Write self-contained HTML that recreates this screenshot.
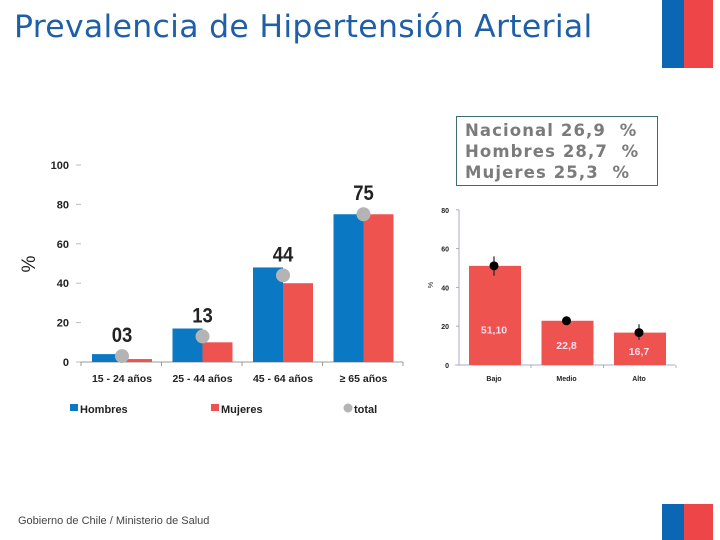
<!DOCTYPE html>
<html><head><meta charset="utf-8"><style>
body{margin:0;width:720px;height:540px;background:#fff;overflow:hidden;position:relative;font-family:"Liberation Sans",sans-serif}
.abs{position:absolute}
</style></head><body>
<div class="abs" style="left:14px;top:9px;font-family:'DejaVu Sans',sans-serif;font-size:31.5px;color:#1f5fa8;letter-spacing:0.3px">Prevalencia de Hipertensión Arterial</div>
<div class="abs" style="left:662px;top:0;width:22px;height:68px;background:#0b67b4"></div>
<div class="abs" style="left:684px;top:0;width:29px;height:68px;background:#ee4549"></div>
<div class="abs" style="left:662px;top:504px;width:22px;height:36px;background:#0b67b4"></div>
<div class="abs" style="left:684px;top:504px;width:29px;height:36px;background:#ee4549"></div>
<div class="abs" style="left:18px;top:515px;font-size:11px;color:#444">Gobierno de Chile / Ministerio de Salud</div>
<div class="abs" style="left:456px;top:116px;width:202px;height:70px;border:1px solid #3d6b74;box-sizing:border-box;font-family:'DejaVu Sans',sans-serif;font-weight:bold;font-size:16.5px;line-height:21px;color:#7b7b7b;padding:3px 0 0 8px;white-space:pre;overflow:visible;letter-spacing:1.1px">Nacional 26,9  %
Hombres 28,7  %
Mujeres 25,3  %</div>
<svg class="abs" style="left:0;top:0" width="720" height="540" id="svg"></svg>
<script>
const ageCats=["15 - 24 años","25 - 44 años","45 - 64 años","≥ 65 años"];
const hombres=[4,17,48,75];
const mujeres=[1.5,10,40,75];
const total=[3,13,44,75];
const totalLabels=["03","13","44","75"];
const leftTicks=[0,20,40,60,80,100];
const sesCats=["Bajo","Medio","Alto"];
const sesVals=[51.1,22.8,16.7];
const sesLabels=["51,10","22,8","16,7"];
const sesErrLo=[46,21,13];
const sesErrHi=[56,24.5,21];
const rightTicks=[0,20,40,60,80];
const NS="http://www.w3.org/2000/svg";
const svg=document.getElementById('svg');
function mk(t,a,txt){const e=document.createElementNS(NS,t);for(const k in a)e.setAttribute(k,a[k]);if(txt!==undefined)e.textContent=txt;svg.appendChild(e);return e;}
// left chart
const ly=v=>362-v*1.97, lx=i=>122+i*80.5;
mk('line',{x1:80,y1:362,x2:403,y2:362,stroke:'#999'});
leftTicks.forEach(t=>{mk('line',{x1:76,x2:81,y1:ly(t),y2:ly(t),stroke:'#bbb'});
const e=mk('text',{x:69,y:ly(t)+4,'text-anchor':'end','font-size':11,'font-weight':'bold',fill:'#222'},t);});
for(let i=0;i<=4;i++)mk('line',{x1:81+i*80.5,x2:81+i*80.5,y1:362,y2:366,stroke:'#999'});
const yl=mk('text',{x:35,y:264,'font-size':19,fill:'#222',transform:'rotate(-90 35 264)','text-anchor':'middle'},'%');
ageCats.forEach((c,i)=>{
let b=mk('rect',{x:lx(i)-30,y:ly(hombres[i]),width:30,height:hombres[i]*1.97,fill:'#0a78c2'});
b=mk('rect',{x:lx(i),y:ly(mujeres[i]),width:30,height:mujeres[i]*1.97,fill:'#ef5350'});
b=mk('circle',{cx:lx(i),cy:ly(total[i]),r:7,fill:'#b4b4b4'});
b=mk('text',{x:lx(i),y:ly(total[i])-14,'text-anchor':'middle','font-size':21,'font-weight':'bold',fill:'#222',transform:`translate(${lx(i)*0.12} 0) scale(0.88 1)`},totalLabels[i]);
b=mk('text',{x:lx(i),y:382,'text-anchor':'middle','font-size':10.5,'font-weight':'bold',fill:'#222'},c);
});
[['#0a78c2','Hombres',70,'legend-hombres'],['#ef5350','Mujeres',211,'legend-mujeres']].forEach(l=>{
let r=mk('rect',{x:l[2],y:404,width:8,height:7,fill:l[0]});
mk('text',{x:l[2]+10,y:413,'font-size':11,'font-weight':'bold',fill:'#222'},l[1]);});
let lc=mk('circle',{cx:348,cy:408,r:4.5,fill:'#b4b4b4'});
mk('text',{x:354,y:413,'font-size':11,'font-weight':'bold',fill:'#222'},'total');
// right chart
const ry=v=>365-v*1.94, rx=i=>495+i*72.5;
mk('line',{x1:459,y1:210,x2:459,y2:365,stroke:'#a9a9c9'});
mk('line',{x1:455,y1:365,x2:675,y2:365,stroke:'#a9a9c9'});
rightTicks.forEach(t=>{mk('line',{x1:456,x2:459,y1:ry(t),y2:ry(t),stroke:'#a9a9c9'});
const e=mk('text',{x:449,y:ry(t)+3,'text-anchor':'end','font-size':7,'font-weight':'bold',fill:'#222'},t);});
mk('text',{x:433,y:285,'font-size':7,fill:'#222',transform:'rotate(-90 433 285)','text-anchor':'middle'},'%');
sesCats.forEach((c,i)=>{
let b=mk('rect',{x:rx(i)-26,y:ry(sesVals[i]),width:52,height:sesVals[i]*1.94,fill:'#ef5350'});
mk('line',{x1:rx(i)-1,x2:rx(i)-1,y1:ry(sesErrHi[i]),y2:ry(sesErrLo[i]),stroke:'#222','stroke-width':1.2});
b=mk('circle',{cx:rx(i)-1,cy:ry(sesVals[i]),r:4.5,fill:'#000'});
b=mk('text',{x:rx(i)-1,y:ry(sesVals[i]/2)+(i==0?18:6),'text-anchor':'middle','font-size':10.5,'font-weight':'bold',fill:'#fde'},sesLabels[i]);
b=mk('text',{x:rx(i)-1,y:381,'text-anchor':'middle','font-size':7,'font-weight':'bold',fill:'#222'},c);
mk('line',{x1:rx(i)+36,x2:rx(i)+36,y1:365,y2:368,stroke:'#a9a9c9'});
});
</script>
</body></html>
